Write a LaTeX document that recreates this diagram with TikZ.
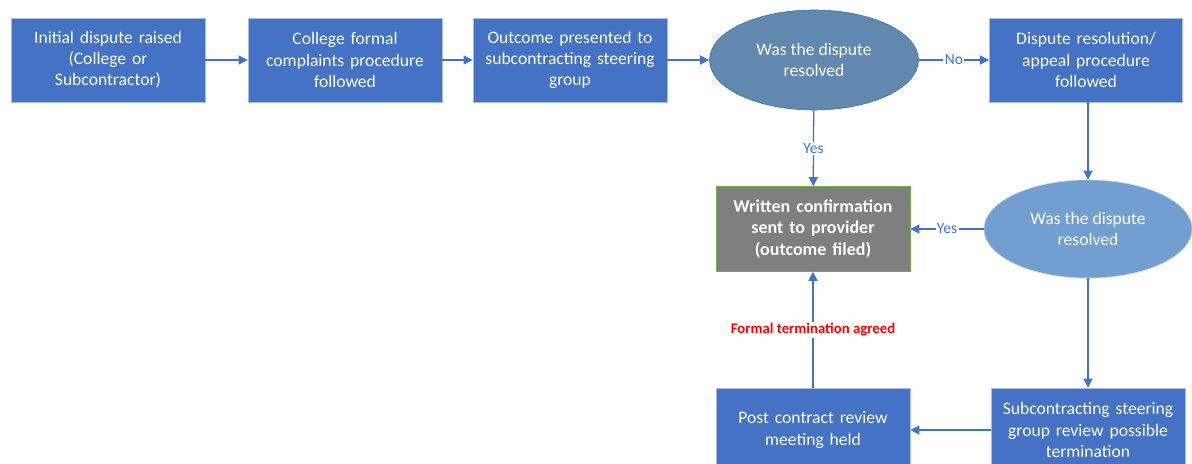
\documentclass[tikz,border=0pt]{standalone}
\usepackage{fontspec}
\setmainfont{Carlito}
\usetikzlibrary{shapes.geometric,arrows.meta}

\definecolor{BoxBlue}{HTML}{4472C4}
\definecolor{BoxEdge}{HTML}{A9BCE0}
\definecolor{DecOne}{HTML}{6189B0}
\definecolor{DecOneEdge}{HTML}{41719C}
\definecolor{DecTwo}{HTML}{729FCF}
\definecolor{DecTwoEdge}{HTML}{BDD0E9}
\definecolor{Grey}{HTML}{7F7F7F}
\definecolor{GreenEdge}{HTML}{70AD47}
\definecolor{Red}{HTML}{FF0000}

\tikzstyle{Step} = [draw=BoxEdge, fill=BoxBlue,
                    rectangle, text=white,
                    minimum width=4.85cm, minimum height=2.1cm,
                    text width=4.6cm, align=center,
                    font=\fontsize{12.5}{15}\selectfont]
\tikzstyle{Question} = [ellipse, text=white,
                        minimum width=5.2cm, minimum height=2.5cm,
                        inner sep=0pt, align=center,
                        font=\fontsize{12.5}{15}\selectfont]
\tikzstyle{Flow} = [draw=BoxBlue, line width=0.9pt,
                    -{Triangle[width=6.5pt,length=6.5pt]}]
\tikzstyle{Tag} = [fill=white, text=BoxBlue, inner sep=1pt,
                   font=\fontsize{11}{13}\selectfont]

\begin{document}
\begin{tikzpicture}[x=0.025cm, y=-0.025cm]

	\clip (0,0) rectangle (1192,464);
	\fill[white] (0,0) rectangle (1192,464);

	% Top row
	\node(raised) at (108, 60) [Step]{Initial dispute raised \\ (College or \\ Subcontractor)};
	\node(complaints) at (345, 60) [Step]{College formal \\ complaints procedure \\ followed};
	\node(presented) at (570, 60) [Step]{Outcome presented to \\ subcontracting steering \\ group};
	\node(resolvedA) at (814, 60) [Question, draw=DecOneEdge, fill=DecOne, minimum width=5.225cm]{Was the dispute \\ resolved};
	\node(appeal) at (1086, 60) [Step, minimum width=4.8cm]{Dispute resolution/ \\ appeal procedure \\ followed};

	% Middle and bottom
	\node(confirm) at (813, 229) [Step, draw=GreenEdge, fill=Grey, minimum height=2.125cm, font=\fontsize{12.8}{15}\selectfont\bfseries]{Written confirmation \\ sent to provider \\ (outcome filed)};
	\node(resolvedB) at (1088, 229) [Question, draw=DecTwoEdge, fill=DecTwo, minimum height=2.45cm]{Was the dispute \\ resolved};
	\node(review) at (813, 430) [Step]{Post contract review \\ meeting held};
	\node(termination) at (1088, 430) [Step]{Subcontracting steering \\ group review possible \\ termination};

	% Lines
	\draw [Flow] (raised) -- (complaints);
	\draw [Flow] (complaints) -- (presented);
	\draw [Flow] (presented) -- (resolvedA);
	\draw [Flow] (resolvedA) -- node[Tag]{No} (appeal);
	\draw [Flow] (resolvedA) -- node[Tag]{Yes} (confirm);
	\draw [Flow] (appeal.south -| resolvedB.north) -- (resolvedB);
	\draw [Flow] (resolvedB) -- node[Tag]{Yes} (confirm);
	\draw [Flow] (resolvedB) -- (termination);
	\draw [Flow] (termination) -- (review);
	\draw [Flow] (review) -- node[Tag, text=Red, font=\fontsize{10.5}{12}\selectfont\bfseries]{Formal termination agreed} (confirm);

\end{tikzpicture}
\end{document}
